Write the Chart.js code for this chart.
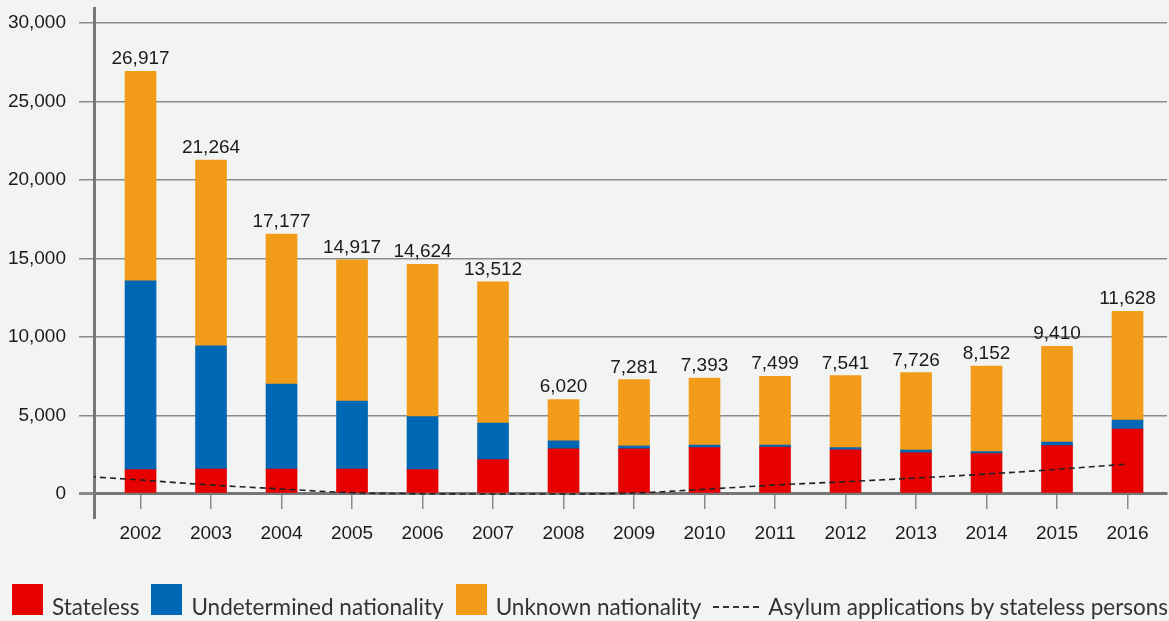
<!DOCTYPE html>
<html>
<head>
<meta charset="utf-8">
<script src="https://cdn.jsdelivr.net/npm/chart.js@4.4.0/dist/chart.umd.min.js"></script>
<style>
  html, body { margin: 0; padding: 0; background: #f2f4f3; }
  #wrap { position: relative; width: 1169px; height: 621px; }
  #legend {
    position: absolute; left: 12px; top: 584px;
    display: flex; align-items: baseline;
    font-family: Lato, "Noto Sans", sans-serif; font-size: 22.5px; color: #333;
    white-space: nowrap;
  }
  .item { display: flex; align-items: baseline; margin-right: 12px; }
  .box { width: 31px; height: 31px; margin-right: 9px; }
  .dash { width: 46px; height: 2px; margin-right: 9px; align-self: center;
    background: repeating-linear-gradient(90deg, #333 0 6px, transparent 6px 10px); }
</style>
</head>
<body>
<div id="wrap">
  <canvas id="chart" width="1169" height="621"></canvas>
  <div id="legend"></div>
</div>
<script>
// data
const years = [2002, 2003, 2004, 2005, 2006, 2007, 2008, 2009, 2010, 2011, 2012, 2013, 2014, 2015, 2016];
const stateless = [1550, 1590, 1590, 1590, 1550, 2190, 2870, 2870, 2950, 2990, 2820, 2630, 2570, 3080, 4140];
const undetermined = [12020, 7840, 5410, 4330, 3380, 2330, 510, 190, 170, 130, 130, 170, 130, 230, 570];
const unknown = [13350, 11840, 9560, 8990, 9700, 8990, 2640, 4220, 4270, 4380, 4590, 4930, 5450, 6100, 6920];
const totalLabels = ["26,917", "21,264", "17,177", "14,917", "14,624", "13,512", "6,020", "7,281", "7,393", "7,499", "7,541", "7,726", "8,152", "9,410", "11,628"];

const asylumYears = [2001, 2002, 2003, 2004, 2005, 2006, 2007, 2008, 2009, 2010, 2011, 2012, 2013, 2014, 2015, 2016];
const asylumValues = [1190, 890, 570, 320, 80, 20, 0, 0, 60, 300, 570, 785, 1020, 1270, 1570, 1910];

const yTicks = [0, 5000, 10000, 15000, 20000, 25000, 30000];

const colors = { stateless: "#e60000", undetermined: "#0067b4", unknown: "#f39c19" };
const numFamily = '"Liberation Sans", Arial, sans-serif';
const tickFont = { family: numFamily, size: 19 };

// totals above each bar
const totalsPlugin = {
  id: "totals",
  afterDatasetsDraw(chart) {
    const meta = chart.getDatasetMeta(3);
    const ctx = chart.ctx;
    ctx.save();
    ctx.font = "19px " + numFamily;
    ctx.fillStyle = "#1a1a1a";
    ctx.textAlign = "center";
    ctx.textBaseline = "alphabetic";
    meta.data.forEach((bar, i) => {
      ctx.fillText(totalLabels[i], bar.x, bar.y - 7);
    });
    ctx.restore();
  }
};

new Chart(document.getElementById("chart"), {
  type: "bar",
  data: {
    labels: years,
    datasets: [
      {
        type: "line",
        label: "Asylum applications by stateless persons",
        data: asylumYears.map((x, i) => ({ x: x, y: asylumValues[i] })),
        borderColor: "#222",
        borderWidth: 1.6,
        borderDash: [6, 4],
        pointRadius: 0,
        fill: false,
        cubicInterpolationMode: "monotone",
        stack: "asylum",
        order: 0
      },
      { label: "Stateless", data: stateless, backgroundColor: colors.stateless, stack: "bars", order: 1 },
      { label: "Undetermined nationality", data: undetermined, backgroundColor: colors.undetermined, stack: "bars", order: 1 },
      { label: "Unknown nationality", data: unknown, backgroundColor: colors.unknown, stack: "bars", order: 1 }
    ]
  },
  options: {
    responsive: false,
    animation: false,
    layout: { padding: { top: 8, right: 2, bottom: 104, left: 0 } },
    datasets: { bar: { barThickness: 31, borderWidth: 0 } },
    plugins: { legend: { display: false }, tooltip: { enabled: false } },
    scales: {
      x: {
        type: "linear",
        stacked: true,
        offset: false,
        min: 2001.34,
        max: 2016.56,
        position: { y: 0 },
        afterFit(scale) {
          scale.height = 0;
          scale.paddingLeft = 0;
          scale.paddingRight = 0;
        },
        afterBuildTicks(scale) { scale.ticks = years.map(v => ({ value: v })); },
        grid: { offset: false, drawOnChartArea: false, tickLength: 14, color: "#8a8a8a", lineWidth: 1.5 },
        border: { color: "#777", width: 3 },
        ticks: { padding: 14, font: tickFont, color: "#1a1a1a", autoSkip: false, maxRotation: 0, callback: v => String(v) }
      },
      y: {
        stacked: true,
        min: -1465,
        max: 30955,
        afterFit(scale) {
          scale.width = 94;
          scale.paddingTop = 0;
          scale.paddingBottom = 0;
        },
        afterBuildTicks(scale) { scale.ticks = yTicks.map(v => ({ value: v })); },
        grid: {
          tickLength: 15,
          color: "#8a8a8a",
          lineWidth: c => (c.tick && c.tick.value === 0 ? 3 : 1.5)
        },
        border: { color: "#777", width: 3 },
        ticks: { padding: 13, font: tickFont, color: "#1a1a1a", callback: v => v.toLocaleString("en-US") }
      }
    }
  },
  plugins: [totalsPlugin]
});

// html legend
const legendItems = [
  { label: "Stateless", color: colors.stateless },
  { label: "Undetermined nationality", color: colors.undetermined },
  { label: "Unknown nationality", color: colors.unknown },
  { label: "Asylum applications by stateless persons", dash: true }
];
const legend = document.getElementById("legend");
legendItems.forEach(it => {
  const item = document.createElement("div");
  item.className = "item";
  const mark = document.createElement("div");
  if (it.dash) {
    mark.className = "dash";
  } else {
    mark.className = "box";
    mark.style.background = it.color;
  }
  const txt = document.createElement("span");
  txt.textContent = it.label;
  item.appendChild(mark);
  item.appendChild(txt);
  legend.appendChild(item);
});
</script>
</body>
</html>
